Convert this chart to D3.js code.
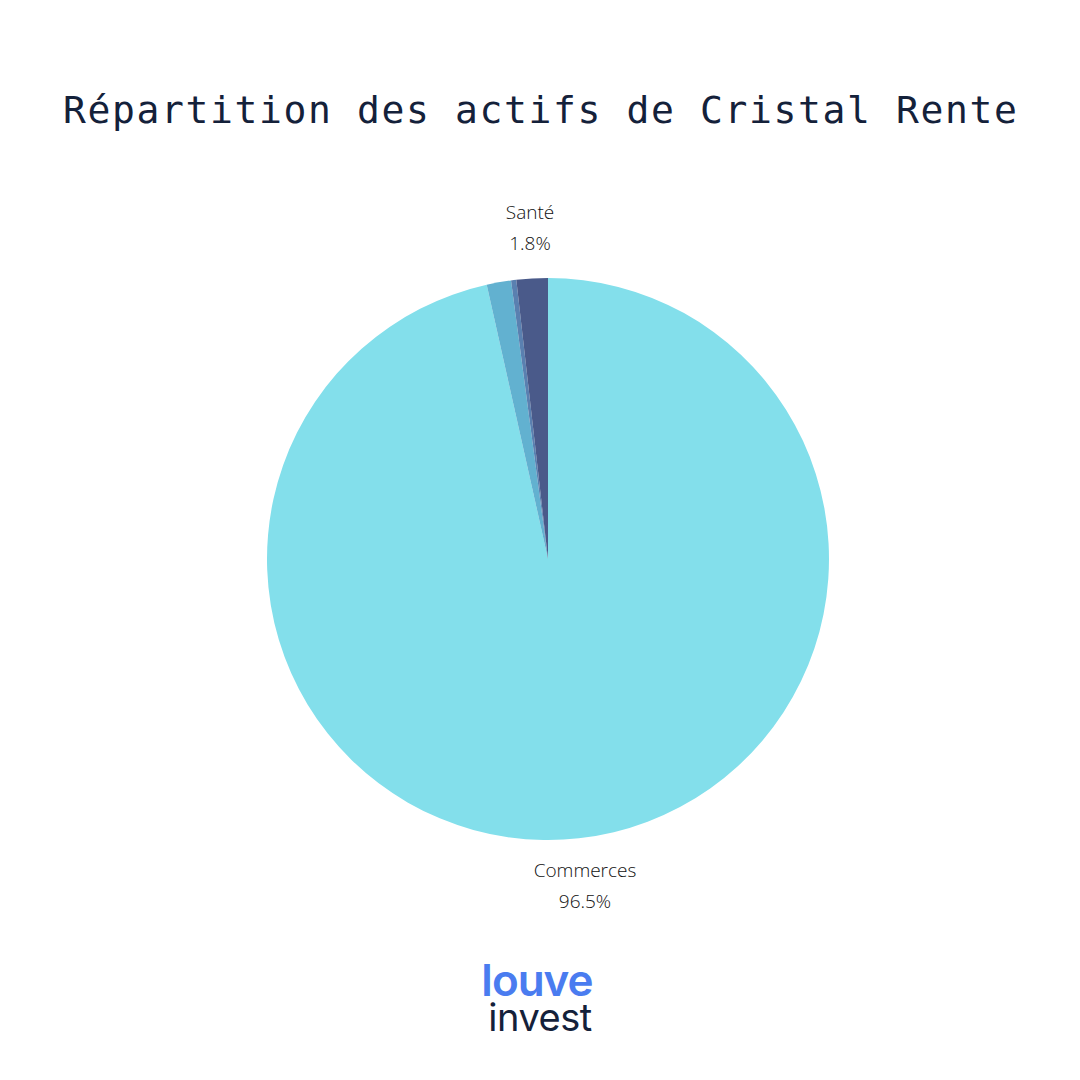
<!DOCTYPE html><html><head><meta charset="utf-8"><script src="https://cdn.jsdelivr.net/npm/d3@7"></script>
<style>body{margin:0;background:#fff}</style></head><body><svg id="c" width="1080" height="1080"></svg><script>
const categories=["Commerces","Autres","Bureaux","Santé"];
const values=[96.5,1.4,0.3,1.8];
const colors=["#83dfeb","#62b1d0","#5a80b0","#4a5a8a"];
const shownLabels=["Commerces","Santé"];
const svg=d3.select("#c");
svg.append("text").attr("x",63).attr("y",123).attr("font-family","DejaVu Sans Mono").attr("font-size",38).attr("textLength",954).attr("lengthAdjust","spacing").attr("fill","#14213a").text("Répartition des actifs de Cristal Rente");
const cx=548,cy=559,r=281;
const pie=d3.pie().sort(null).value(d=>d)(values);
const arc=d3.arc().innerRadius(0).outerRadius(r);
const g=svg.append("g").attr("transform",`translate(${cx},${cy})`);
g.selectAll("path").data(pie).join("path").attr("d",arc).attr("fill",(d,i)=>colors[i]);
pie.forEach((d,i)=>{if(!shownLabels.includes(categories[i]))return;
 let x,y; if(categories[i]==="Santé"){x=-18;y=-r-59;} else {x=37;y=318;}
 const t=g.append("text").attr("text-anchor","middle").attr("font-family","Open Sans").attr("font-weight",300).attr("font-size",19).attr("fill","#111");
 t.append("tspan").attr("x",x).attr("y",y).text(categories[i]);
 t.append("tspan").attr("x",x).attr("y",y+31).text(values[i].toFixed(1)+"%");});
const L=svg.append("g").attr("font-family","Inter").attr("font-weight",600);
L.append("text").attr("x",537).attr("y",996).attr("text-anchor","middle").attr("font-size",44).attr("fill","#4a7cf0").attr("letter-spacing",-1).text("louve");
L.append("text").attr("x",540).attr("y",1031).attr("text-anchor","middle").attr("font-size",38).attr("font-weight",400).attr("fill","#14213a").attr("letter-spacing",-0.5).text("invest");
</script></body></html>
